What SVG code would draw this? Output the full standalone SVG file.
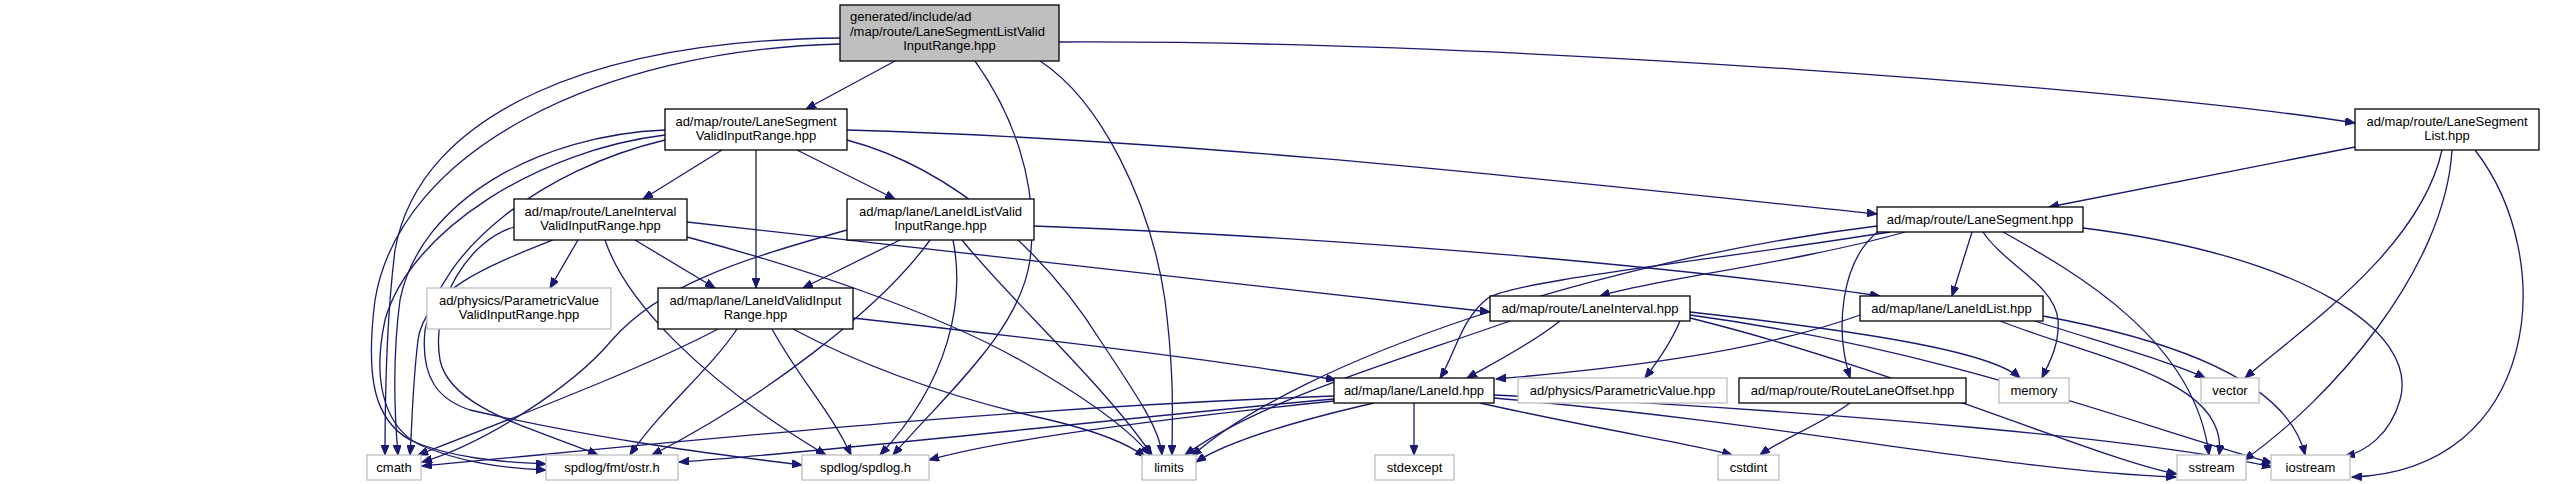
<svg xmlns="http://www.w3.org/2000/svg" width="2556" height="484" viewBox="0 0 2556 484">
<style>
.n rect{fill:#fff;stroke:#000;stroke-width:1.3}
.g rect{fill:#fff;stroke:#bfbfbf;stroke-width:1.3}
.root rect{fill:#bfbfbf;stroke:#000;stroke-width:1.3}
text{font-family:"Liberation Sans",Arial,sans-serif;font-size:13px;fill:#000;text-anchor:middle}
.e path{fill:none;stroke:#191970;stroke-width:1.3;marker-end:url(#a)}
</style>
<defs>
<marker id="a" markerUnits="userSpaceOnUse" markerWidth="11" markerHeight="8" refX="10" refY="4" orient="auto" viewBox="0 0 11 8">
<path d="M0,0 L10,4 L0,8 z" fill="#191970" stroke="#191970"/>
</marker>
</defs>
<rect width="2556" height="484" fill="#fff"/>
<g class="e" id="edges">
<path d="M895,61 L806,109"/>
<path d="M1059,42 C1500,40 2150,90 2355,123"/>
<path d="M840,38 C600,40 420,110 395,250 C385,330 385,420 385,455"/>
<path d="M840,44 C600,50 400,150 375,300 C365,380 375,420 410,440 C450,458 500,462 546,464"/>
<path d="M975,61 C1010,110 1040,180 1030,260 C1020,330 950,390 893,455"/>
<path d="M1040,61 C1100,100 1150,200 1165,300 C1175,380 1172,420 1172,455"/>
<path d="M722,150 L643,199"/>
<path d="M756,150 L756,288"/>
<path d="M797,150 L895,199"/>
<path d="M847,130 C1200,140 1550,180 1877,214"/>
<path d="M665,130 C540,135 420,200 400,300 C392,360 395,420 398,455"/>
<path d="M665,135 C540,150 410,230 385,320 C370,390 390,430 420,445 C460,462 500,468 546,470"/>
<path d="M665,140 C540,170 440,250 425,330 C420,380 440,400 470,410 C600,440 720,455 802,465"/>
<path d="M847,140 C960,170 1050,260 1100,340 C1140,400 1160,430 1162,455"/>
<path d="M578,240 L550,288"/>
<path d="M635,240 L715,288"/>
<path d="M687,222 C1000,255 1300,290 1490,312"/>
<path d="M553,240 C490,265 425,290 418,340 C412,390 412,430 410,455"/>
<path d="M514,227 C470,240 430,300 440,360 C450,410 540,430 598,455"/>
<path d="M605,240 C625,300 700,380 826,455"/>
<path d="M687,237 C800,267 930,310 1020,360 C1090,400 1130,430 1150,455"/>
<path d="M900,240 L803,288"/>
<path d="M1034,226 C1400,240 1700,270 1880,296"/>
<path d="M847,230 C740,260 660,285 612,340 C570,390 480,445 422,462"/>
<path d="M930,240 C880,310 760,400 652,455"/>
<path d="M953,240 C965,300 950,380 880,455"/>
<path d="M962,240 C1010,300 1100,380 1152,455"/>
<path d="M853,318 C1050,340 1250,365 1336,380"/>
<path d="M718,329 C660,360 560,400 418,455"/>
<path d="M737,329 C710,370 660,410 630,455"/>
<path d="M772,329 C800,380 830,410 851,455"/>
<path d="M793,329 C870,370 960,400 1050,420 C1100,432 1130,445 1145,457"/>
<path d="M2355,147 L2049,207"/>
<path d="M2442,150 C2420,250 2300,330 2245,378"/>
<path d="M2452,150 C2445,270 2330,400 2244,460"/>
<path d="M2475,150 C2560,260 2540,470 2352,477"/>
<path d="M1905,232 C1800,262 1650,280 1600,296"/>
<path d="M1972,232 L1952,296"/>
<path d="M1890,232 C1700,262 1520,280 1488,298 C1460,320 1455,355 1440,378"/>
<path d="M1983,232 C2005,265 2055,285 2058,320 C2060,345 2048,365 2042,378"/>
<path d="M1880,230 C1840,260 1835,330 1850,378"/>
<path d="M2003,232 C2075,272 2195,340 2209,455"/>
<path d="M2083,228 C2300,255 2420,330 2400,400 C2390,435 2365,452 2345,456"/>
<path d="M1877,226 C1600,260 1300,360 1192,456"/>
<path d="M1560,321 C1530,345 1490,365 1467,378"/>
<path d="M1680,321 C1670,345 1655,365 1645,378"/>
<path d="M1690,312 C1850,330 1990,350 2020,378"/>
<path d="M1690,318 C1900,370 2100,460 2177,474"/>
<path d="M1690,315 C1950,350 2150,430 2272,463"/>
<path d="M1510,321 C1400,360 1260,400 1185,455"/>
<path d="M1860,315 C1750,355 1600,370 1496,379"/>
<path d="M2035,321 C2110,345 2180,365 2205,378"/>
<path d="M2000,321 C2100,360 2230,380 2219,455"/>
<path d="M2043,316 C2200,345 2290,390 2305,455"/>
<path d="M1334,396 C1000,408 700,440 422,466"/>
<path d="M1334,399 C1100,420 850,450 679,462"/>
<path d="M1334,401 C1150,420 1000,440 929,460"/>
<path d="M1374,403 C1300,420 1230,440 1196,462"/>
<path d="M1414,403 L1414,455"/>
<path d="M1480,403 C1600,430 1700,445 1732,455"/>
<path d="M1494,398 C1800,425 2000,470 2176,477"/>
<path d="M1494,395 C1850,412 2150,440 2272,467"/>
<path d="M1850,403 C1820,425 1780,440 1760,455"/>
</g>
<g id="root" class="root"><rect x="840" y="5" width="219" height="56"/><text x="850" y="21" style="text-anchor:start">generated/include/ad</text><text x="850" y="35.5" style="text-anchor:start">/map/route/LaneSegmentListValid</text><text x="949.5" y="50">InputRange.hpp</text></g>
<g id="lsvir" class="n"><rect x="665" y="109" width="182" height="41"/><text x="756" y="126">ad/map/route/LaneSegment</text><text x="756" y="140">ValidInputRange.hpp</text></g>
<g id="lsl" class="n"><rect x="2355" y="109" width="184" height="41"/><text x="2447" y="126">ad/map/route/LaneSegment</text><text x="2447" y="140">List.hpp</text></g>
<g id="livir" class="n"><rect x="514" y="199" width="173" height="41"/><text x="600.5" y="216">ad/map/route/LaneInterval</text><text x="600.5" y="230">ValidInputRange.hpp</text></g>
<g id="lilvir" class="n"><rect x="847" y="199" width="187" height="41"/><text x="940.5" y="216">ad/map/lane/LaneIdListValid</text><text x="940.5" y="230">InputRange.hpp</text></g>
<g id="ls" class="n"><rect x="1877" y="207" width="206" height="25"/><text x="1980" y="223.5">ad/map/route/LaneSegment.hpp</text></g>
<g id="pvvir" class="g"><rect x="427" y="288" width="184" height="41"/><text x="519" y="305">ad/physics/ParametricValue</text><text x="519" y="319">ValidInputRange.hpp</text></g>
<g id="lidvir" class="n"><rect x="658" y="288" width="195" height="41"/><text x="755.5" y="305">ad/map/lane/LaneIdValidInput</text><text x="755.5" y="319">Range.hpp</text></g>
<g id="li" class="n"><rect x="1490" y="296" width="200" height="25"/><text x="1590" y="312.5">ad/map/route/LaneInterval.hpp</text></g>
<g id="lil" class="n"><rect x="1860" y="296" width="183" height="25"/><text x="1951.5" y="312.5">ad/map/lane/LaneIdList.hpp</text></g>
<g id="lid" class="n"><rect x="1334" y="378" width="160" height="25"/><text x="1414" y="394.5">ad/map/lane/LaneId.hpp</text></g>
<g id="pv" class="g"><rect x="1518" y="378" width="209" height="25"/><text x="1622.5" y="394.5">ad/physics/ParametricValue.hpp</text></g>
<g id="rlo" class="n"><rect x="1739" y="378" width="227" height="25"/><text x="1852.5" y="394.5">ad/map/route/RouteLaneOffset.hpp</text></g>
<g id="memory" class="g"><rect x="1999" y="378" width="70" height="25"/><text x="2034" y="394.5">memory</text></g>
<g id="vector" class="g"><rect x="2201" y="378" width="58" height="25"/><text x="2230" y="394.5">vector</text></g>
<g id="cmath" class="g"><rect x="367" y="455" width="54" height="25"/><text x="394" y="471.5">cmath</text></g>
<g id="ostr" class="g"><rect x="546" y="455" width="132" height="25"/><text x="612" y="471.5">spdlog/fmt/ostr.h</text></g>
<g id="spdlog" class="g"><rect x="802" y="455" width="127" height="25"/><text x="865.5" y="471.5">spdlog/spdlog.h</text></g>
<g id="limits" class="g"><rect x="1142" y="455" width="54" height="25"/><text x="1169" y="471.5">limits</text></g>
<g id="stdexcept" class="g"><rect x="1375" y="455" width="79" height="25"/><text x="1414.5" y="471.5">stdexcept</text></g>
<g id="cstdint" class="g"><rect x="1718" y="455" width="61" height="25"/><text x="1748.5" y="471.5">cstdint</text></g>
<g id="sstream" class="g"><rect x="2177" y="455" width="69" height="25"/><text x="2211.5" y="471.5">sstream</text></g>
<g id="iostream" class="g"><rect x="2271" y="455" width="79" height="25"/><text x="2310.5" y="471.5">iostream</text></g>
</svg>
